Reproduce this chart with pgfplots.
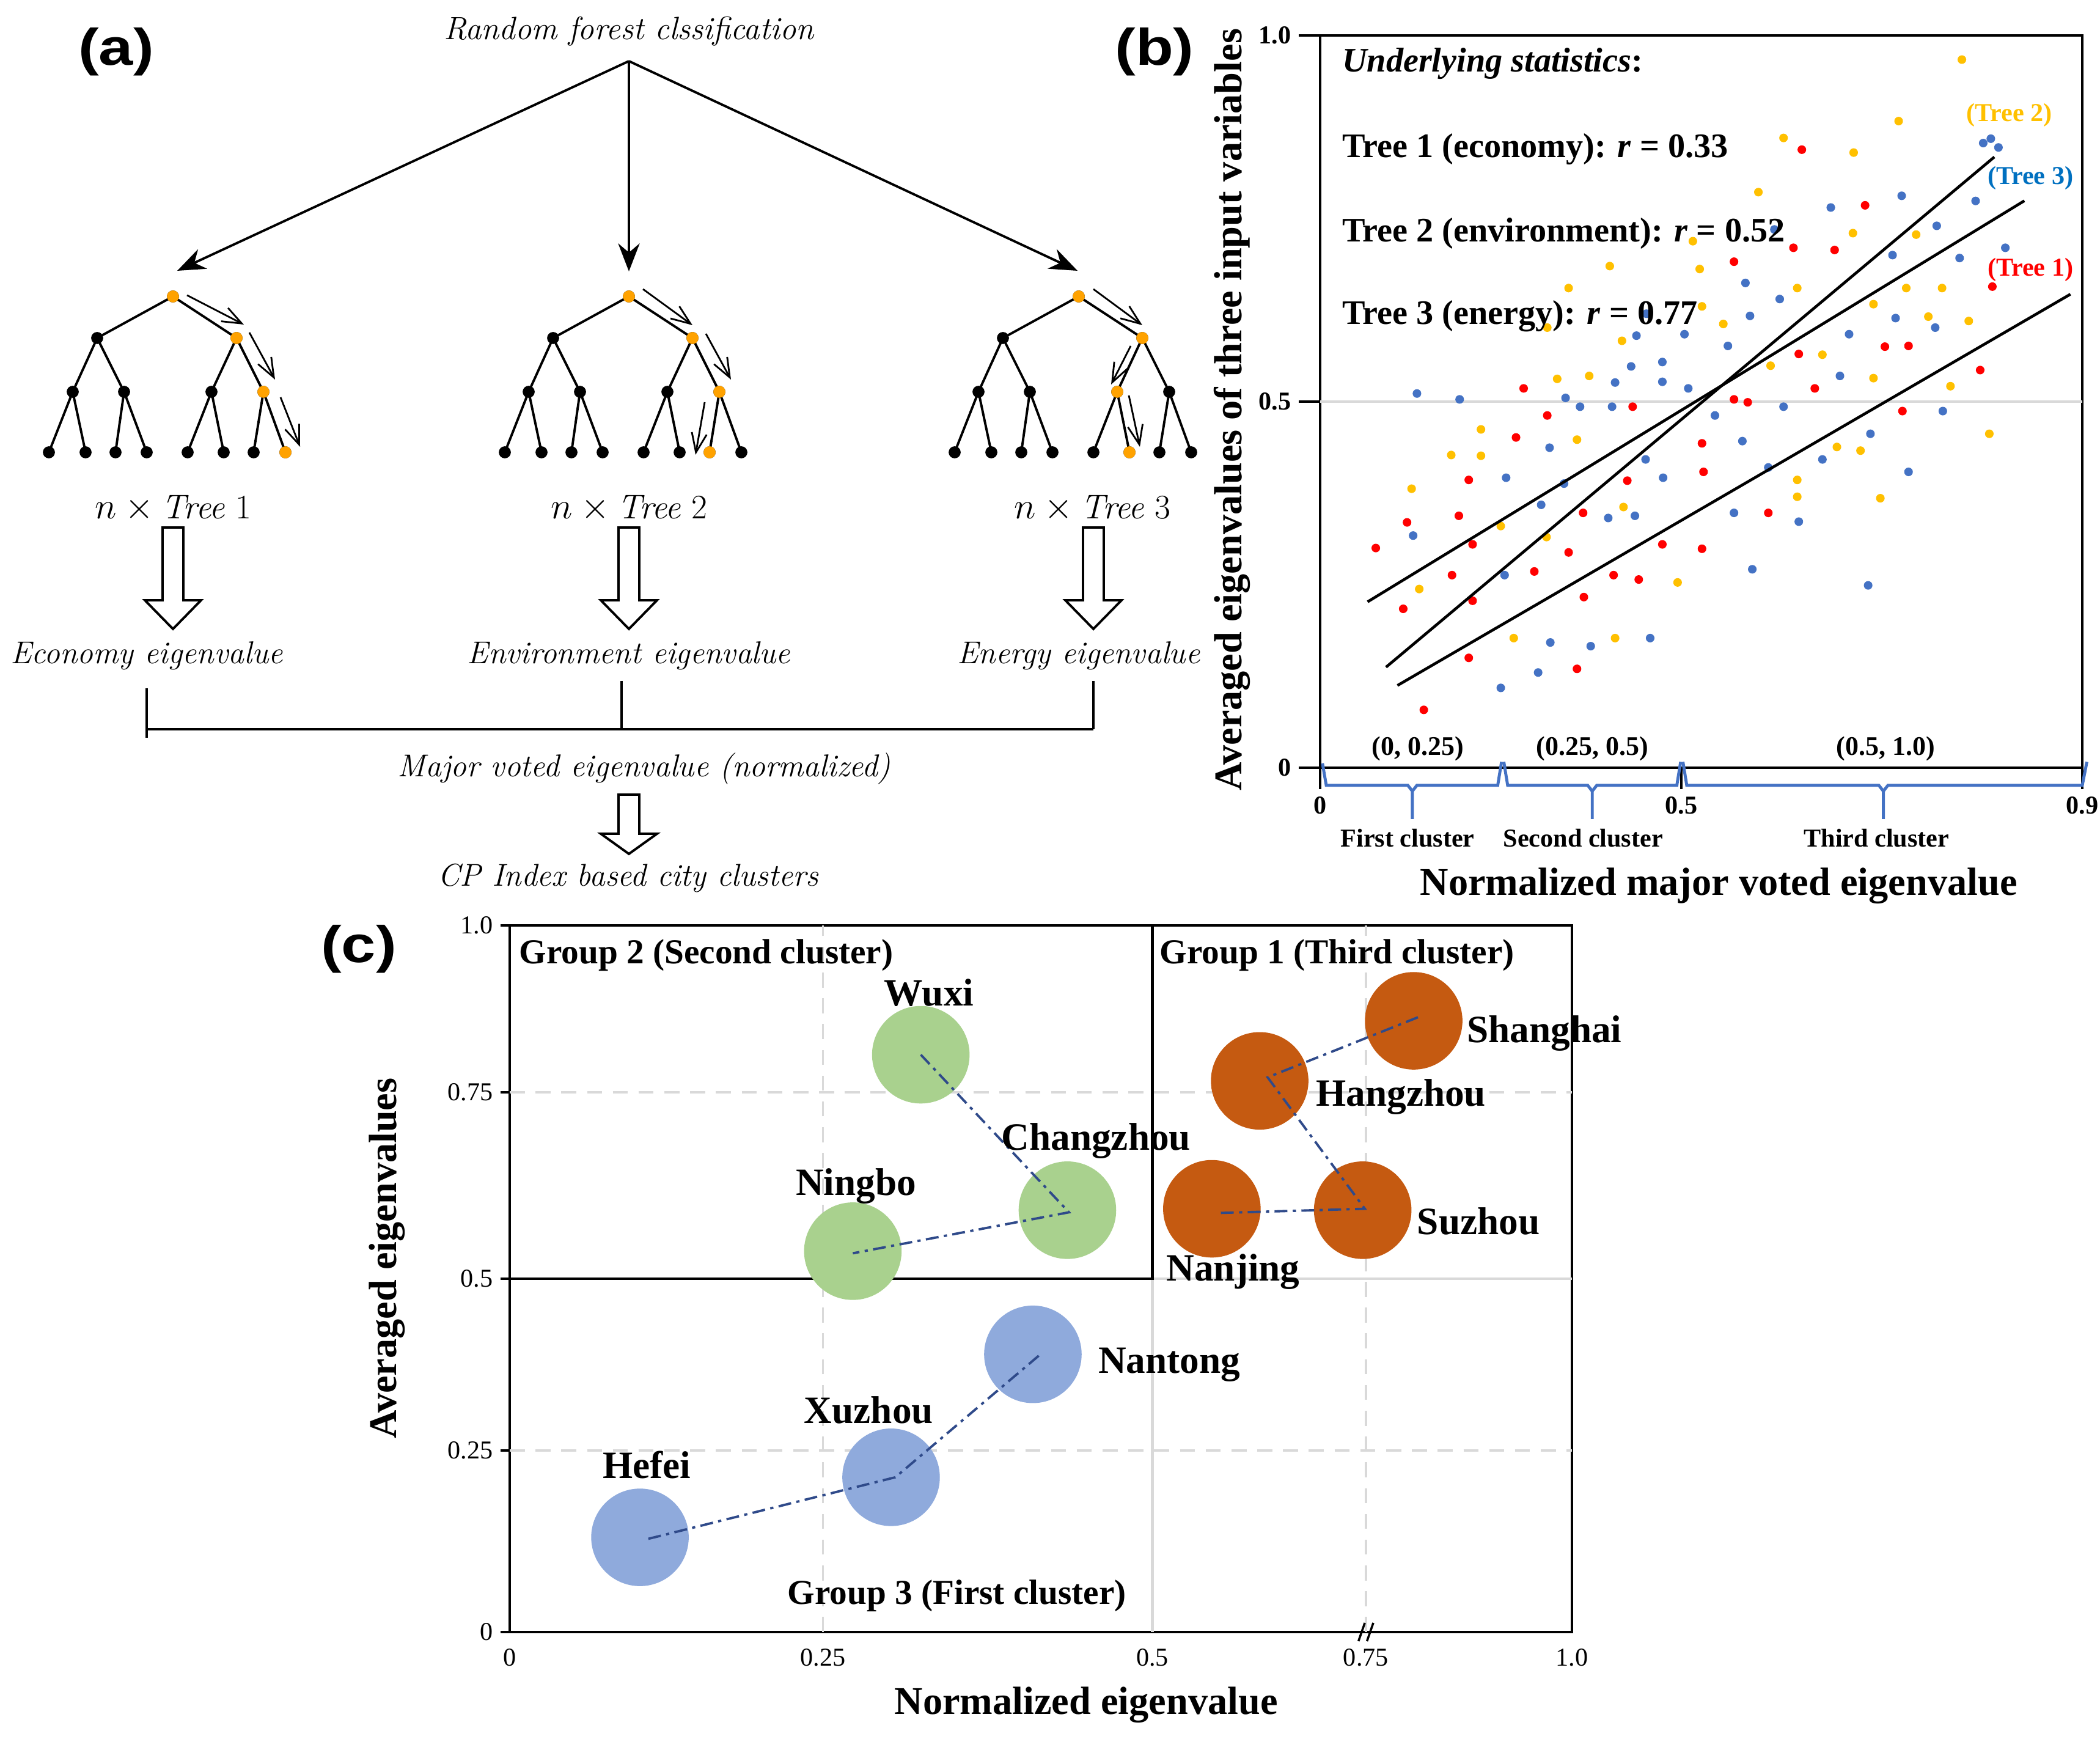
\documentclass[border=0pt]{standalone}
\usepackage{fontspec}
\usepackage{graphicx}
\usepackage{pgfplots}
\pgfplotsset{compat=1.18}
\usepackage{pgfplotstable}
\usetikzlibrary{arrows.meta}
\newfontfamily\tnr{Liberation Serif}
\newfontfamily\sansb{Liberation Sans}

\definecolor{nodeor}{HTML}{FFA200}
\definecolor{dotred}{HTML}{FF0000}
\definecolor{dotyel}{HTML}{FFC000}
\definecolor{dotblu}{HTML}{4472C4}
\definecolor{t3blue}{HTML}{0070C0}
\definecolor{cgreen}{HTML}{A9D18E}
\definecolor{cblue}{HTML}{8FAADC}
\definecolor{corange}{HTML}{C55A11}
\definecolor{navy}{HTML}{2F4A8A}
\definecolor{gridg}{HTML}{D9D9D9}

\tikzset{city/.style={font=\tnr\bfseries\fontsize{18}{21}\selectfont}}
\pgfplotsset{
  pth/.style={black, line width=0.8pt, -{Straight Barb[length=9pt,width=7pt]}},
  dd/.style={navy, line width=1.1pt, dash pattern=on 6pt off 2.5pt on 1.5pt off 2.5pt},
  bubble/.style={only marks, mark=*, mark size=22.5pt, color=#1, mark options={draw=#1, fill=#1}}}

% tree template, x relative to the root, y in picture pixels
\pgfplotstableread{
dx y
-203 740
-164 641
-143 740
0 nan
-94 740
-80 641
-43 740
0 nan
24 740
63 641
83 740
0 nan
132 740
148 641
184 740
0 nan
-164 641
-124 553
-80 641
0 nan
63 641
104 553
148 641
0 nan
-124 553
0 485
104 553
}\treeedges

\pgfplotstableread{
dx y
0 485
-124 553
104 553
-164 641
-80 641
63 641
148 641
-203 740
-143 740
-94 740
-43 740
24 740
83 740
132 740
184 740
}\treenodes

% panel (b): points in axis fractions
\pgfplotstableread{
x y
0.267 0.518
0.632 0.844
0.715 0.768
0.621 0.710
0.675 0.707
0.543 0.691
0.882 0.657
0.741 0.575
0.772 0.576
0.628 0.565
0.866 0.543
0.649 0.518
0.410 0.493
0.298 0.481
0.257 0.451
0.501 0.443
0.503 0.404
0.195 0.393
0.403 0.392
0.345 0.348
0.182 0.344
0.114 0.335
0.073 0.300
0.200 0.305
0.326 0.294
0.449 0.305
0.501 0.299
0.173 0.263
0.281 0.268
0.385 0.263
0.418 0.257
0.200 0.228
0.109 0.217
0.346 0.233
0.195 0.150
0.337 0.135
0.136 0.079
0.543 0.503
0.561 0.499
0.764 0.487
0.588 0.348
}\redpts

\pgfplotstableread{
x y
0.489 0.719
0.380 0.685
0.498 0.681
0.326 0.655
0.501 0.630
0.298 0.601
0.396 0.583
0.311 0.531
0.353 0.535
0.842 0.967
0.759 0.883
0.608 0.860
0.700 0.840
0.575 0.786
0.699 0.730
0.782 0.728
0.626 0.655
0.769 0.655
0.816 0.655
0.726 0.633
0.529 0.606
0.798 0.616
0.851 0.610
0.659 0.564
0.591 0.549
0.726 0.532
0.827 0.521
0.211 0.462
0.337 0.448
0.172 0.427
0.211 0.426
0.120 0.381
0.398 0.356
0.237 0.330
0.297 0.315
0.469 0.253
0.130 0.244
0.254 0.177
0.387 0.177
0.878 0.456
0.678 0.438
0.709 0.433
0.626 0.393
0.626 0.370
0.735 0.368
}\yelpts

\pgfplotstableread{
x y
0.428 0.620
0.415 0.590
0.478 0.592
0.408 0.548
0.449 0.554
0.387 0.526
0.449 0.527
0.483 0.518
0.127 0.511
0.183 0.503
0.322 0.505
0.870 0.853
0.880 0.859
0.890 0.847
0.763 0.781
0.670 0.765
0.860 0.774
0.596 0.735
0.809 0.740
0.751 0.700
0.839 0.696
0.899 0.710
0.558 0.662
0.603 0.640
0.564 0.617
0.755 0.614
0.807 0.601
0.694 0.592
0.535 0.576
0.682 0.535
0.341 0.493
0.383 0.493
0.301 0.437
0.427 0.421
0.244 0.396
0.450 0.396
0.320 0.388
0.290 0.359
0.378 0.341
0.413 0.344
0.122 0.317
0.242 0.263
0.302 0.171
0.355 0.166
0.433 0.177
0.286 0.130
0.237 0.109
0.608 0.493
0.518 0.481
0.817 0.487
0.722 0.456
0.554 0.446
0.659 0.421
0.588 0.410
0.772 0.404
0.543 0.348
0.628 0.336
0.567 0.271
0.719 0.249
}\blupts

\begin{document}
\begin{tikzpicture}
\useasboundingbox (0,0) rectangle (34.36,28.44);

% ---------- panel (a): drawn on a canvas in picture pixels ----------
\begin{axis}[
  at={(0,0)}, anchor=south west, scale only axis,
  width=34.36cm, height=28.44cm,
  xmin=0, xmax=3436, ymin=0, ymax=2844, y dir=reverse,
  hide axis, clip=false]

\addplot[black, line width=1.1pt, -{Stealth[length=13pt,width=10pt]}] coordinates {(1029,100) (290,443)};
\addplot[black, line width=1.1pt, -{Stealth[length=13pt,width=10pt]}] coordinates {(1029,100) (1029,444)};
\addplot[black, line width=1.1pt, -{Stealth[length=13pt,width=10pt]}] coordinates {(1029,100) (1763,443)};

\pgfplotsinvokeforeach{283,1029,1765}{
  \addplot[black, line width=1.1pt, unbounded coords=jump] table[x expr=\thisrow{dx}+#1, y=y] {\treeedges};
  \addplot[only marks, mark=*, mark size=2.6pt, black] table[x expr=\thisrow{dx}+#1, y=y] {\treenodes};
}
\addplot[only marks, mark=*, mark size=2.6pt, color=nodeor, mark options={draw=nodeor, fill=nodeor}] coordinates {
  (283,485) (387,553) (431,641) (467,740)
  (1029,485) (1133,553) (1177,641) (1161,740)
  (1765,485) (1869,553) (1828,641) (1848,740)};

\addplot[pth] coordinates {(306,483) (399,531)};
\addplot[pth] coordinates {(408,544) (450,621)};
\addplot[pth] coordinates {(459,650) (491,731)};
\addplot[pth] coordinates {(1052,473) (1133,532)};
\addplot[pth] coordinates {(1155,546) (1196,621)};
\addplot[pth] coordinates {(1153,658) (1138,744)};
\addplot[pth] coordinates {(1789,473) (1869,532)};
\addplot[pth] coordinates {(1850,566) (1818,629)};
\addplot[pth] coordinates {(1847,647) (1865,731)};

\pgfplotsinvokeforeach{283,1029,1789}{
  \addplot[black, line width=1.1pt, fill=white] coordinates {
    (#1-17,863) (#1+17,863) (#1+17,982) (#1+46,982) (#1,1029) (#1-46,982) (#1-17,982)} --cycle;
}
\addplot[black, line width=1.1pt, fill=white] coordinates {
  (1012,1300) (1046,1300) (1046,1364) (1075,1364) (1029,1397) (983,1364) (1012,1364)} --cycle;

\addplot[black, line width=1.1pt] coordinates {(240,1126) (240,1207)};
\addplot[black, line width=1.1pt] coordinates {(240,1193) (1789,1193)};
\addplot[black, line width=1.1pt] coordinates {(1017,1114) (1017,1193)};
\addplot[black, line width=1.1pt] coordinates {(1789,1114) (1789,1193)};

\node[font=\itshape\fontsize{15}{18}\selectfont] at (axis cs:1029,51) {Random forest clssification};
\node[font=\fontsize{16}{19}\selectfont] at (axis cs:283,832) {$n \times \textit{Tree}$ 1};
\node[font=\fontsize{16}{19}\selectfont] at (axis cs:1029,832) {$n \times \textit{Tree}$ 2};
\node[font=\fontsize{16}{19}\selectfont] at (axis cs:1787,832) {$n \times \textit{Tree}$ 3};
\node[font=\itshape\fontsize{14.7}{17}\selectfont] at (axis cs:240,1073) {Economy eigenvalue};
\node[font=\itshape\fontsize{14.7}{17}\selectfont] at (axis cs:1029,1073) {Environment eigenvalue};
\node[font=\itshape\fontsize{14.7}{17}\selectfont] at (axis cs:1765,1073) {Energy eigenvalue};
\node[font=\itshape\fontsize{14.7}{17}\selectfont] at (axis cs:1054,1258) {Major voted eigenvalue (normalized)};
\node[font=\itshape\fontsize{14.7}{17}\selectfont] at (axis cs:1028,1437) {CP Index based city clusters};

\node[font=\sansb\bfseries\fontsize{24}{28}\selectfont] at (axis cs:190,85) {\scalebox{1.2}[1]{(a)}};
\node[font=\sansb\bfseries\fontsize{24}{28}\selectfont] at (axis cs:1889,85) {\scalebox{1.2}[1]{(b)}};
\node[font=\sansb\bfseries\fontsize{24}{28}\selectfont] at (axis cs:587,1553) {\scalebox{1.2}[1]{(c)}};
\end{axis}

% ---------- panel (b) ----------
\begin{axis}[
  at={(21.60cm,15.88cm)}, anchor=south west, scale only axis,
  width=12.47cm, height=11.98cm,
  xmin=0, xmax=1, ymin=0, ymax=1,
  axis line style={line width=1.3pt},
  xtick={0,0.474,1}, xticklabels={0,0.5,0.9},
  ytick={0,0.5,1}, yticklabels={0,0.5,1.0},
  xtick pos=bottom, ytick pos=left,
  tick align=outside, major tick length=0.35cm,
  tick style={line width=1.3pt, black},
  ticklabel style={font=\tnr\bfseries\fontsize{12}{14}\selectfont},
  xlabel={Normalized major voted eigenvalue},
  ylabel={Averaged eigenvalues of three input variables},
  label style={font=\tnr\bfseries\fontsize{18.3}{21}\selectfont},
  xlabel style={at={(axis description cs:0.523,-0.161)}, anchor=center},
  ylabel style={at={(axis description cs:-0.1155,0.489)}, anchor=center},
  clip=false, clip marker paths=true]

\addplot[gridg, line width=1pt] coordinates {(0,0.5) (1,0.5)};

\addplot[only marks, mark=*, mark size=1.8pt, color=dotred, mark options={draw=dotred, fill=dotred}] table {\redpts};
\addplot[only marks, mark=*, mark size=1.8pt, color=dotyel, mark options={draw=dotyel, fill=dotyel}] table {\yelpts};
\addplot[only marks, mark=*, mark size=1.8pt, color=dotblu, mark options={draw=dotblu, fill=dotblu}] table {\blupts};

\addplot[black, line width=1.3pt] coordinates {(0.0864,0.1373) (0.8846,0.8340)};
\addplot[black, line width=1.3pt] coordinates {(0.0622,0.2265) (0.924,0.7742)};
\addplot[black, line width=1.3pt] coordinates {(0.1014,0.1123) (0.9844,0.6466)};

\addplot[dotblu, line width=1.4pt] coordinates {(0.003,0.006) (0.008,-0.024) (0.115,-0.024) (0.121,-0.032) (0.121,-0.07) (0.121,-0.032) (0.127,-0.024) (0.233,-0.024) (0.238,0.008)};
\addplot[dotblu, line width=1.4pt] coordinates {(0.241,0.008) (0.246,-0.024) (0.351,-0.024) (0.357,-0.032) (0.357,-0.07) (0.357,-0.032) (0.363,-0.024) (0.468,-0.024) (0.473,0.008)};
\addplot[dotblu, line width=1.4pt] coordinates {(0.476,0.008) (0.481,-0.024) (0.733,-0.024) (0.739,-0.032) (0.739,-0.07) (0.739,-0.032) (0.745,-0.024) (1.0,-0.024) (1.006,0.008)};

\node[anchor=west, font=\tnr\bfseries\itshape\fontsize{16}{19}\selectfont] at (axis cs:0.019,0.9616) {Underlying statistics\textup{:}};
\node[anchor=west, font=\tnr\bfseries\fontsize{16}{19}\selectfont] at (axis cs:0.019,0.8447) {Tree 1 (economy): \textit{r} = 0.33};
\node[anchor=west, font=\tnr\bfseries\fontsize{16}{19}\selectfont] at (axis cs:0.019,0.7295) {Tree 2 (environment): \textit{r} = 0.52};
\node[anchor=west, font=\tnr\bfseries\fontsize{16}{19}\selectfont] at (axis cs:0.019,0.6169) {Tree 3 (energy): \textit{r} = 0.77};

\node[text=dotyel, font=\tnr\bfseries\fontsize{12}{14}\selectfont] at (axis cs:0.904,0.891) {(Tree 2)};
\node[text=t3blue, font=\tnr\bfseries\fontsize{12}{14}\selectfont] at (axis cs:0.932,0.805) {(Tree 3)};
\node[text=dotred, font=\tnr\bfseries\fontsize{12}{14}\selectfont] at (axis cs:0.932,0.680) {(Tree 1)};

\node[font=\tnr\bfseries\fontsize{12.5}{14}\selectfont] at (axis cs:0.128,0.026) {(0, 0.25)};
\node[font=\tnr\bfseries\fontsize{12.5}{14}\selectfont] at (axis cs:0.357,0.026) {(0.25, 0.5)};
\node[font=\tnr\bfseries\fontsize{12.5}{14}\selectfont] at (axis cs:0.742,0.026) {(0.5, 1.0)};

\node[font=\tnr\bfseries\fontsize{12}{14}\selectfont] at (axis cs:0.1147,-0.096) {First cluster};
\node[font=\tnr\bfseries\fontsize{12}{14}\selectfont] at (axis cs:0.345,-0.096) {Second cluster};
\node[font=\tnr\bfseries\fontsize{12}{14}\selectfont] at (axis cs:0.730,-0.096) {Third cluster};
\end{axis}

% ---------- panel (c) ----------
\begin{axis}[
  at={(8.34cm,1.74cm)}, anchor=south west, scale only axis,
  width=17.38cm, height=11.56cm,
  xmin=0, xmax=1, ymin=0, ymax=1,
  axis line style={line width=1.3pt},
  xtick={0,0.295,0.605,0.806,1}, xticklabels={0,0.25,0.5,0.75,1.0},
  ytick={0,0.257,0.5,0.764,1}, yticklabels={0,0.25,0.5,0.75,1.0},
  xtick pos=bottom, ytick pos=left,
  tick align=outside, major tick length=0.15cm,
  tick style={line width=1pt, black},
  xtick style={draw=none},
  ticklabel style={font=\tnr\fontsize{12}{14}\selectfont},
  xlabel={Normalized eigenvalue},
  ylabel={Averaged eigenvalues},
  label style={font=\tnr\bfseries\fontsize{18.3}{21}\selectfont},
  xlabel style={at={(axis description cs:0.5426,-0.103)}, anchor=center},
  ylabel style={at={(axis description cs:-0.1157,0.529)}, anchor=center},
  clip=false, clip marker paths=true]

\addplot[gridg, line width=1pt, dash pattern=on 7pt off 5pt] coordinates {(0.295,0) (0.295,1)};
\addplot[gridg, line width=1pt, dash pattern=on 7pt off 5pt] coordinates {(0.806,0) (0.806,1)};
\addplot[gridg, line width=1pt, dash pattern=on 7pt off 5pt] coordinates {(0,0.257) (1,0.257)};
\addplot[gridg, line width=1pt, dash pattern=on 7pt off 5pt] coordinates {(0,0.764) (1,0.764)};
\addplot[gridg, line width=1.2pt] coordinates {(0.605,0) (0.605,0.5) (1,0.5)};
\addplot[black, line width=1.3pt] coordinates {(0,0.5) (0.605,0.5) (0.605,1)};

\addplot[bubble=cgreen] coordinates {(0.387,0.817) (0.525,0.597) (0.323,0.539)};
\addplot[bubble=cblue] coordinates {(0.4925,0.393) (0.359,0.219) (0.1226,0.134)};
\addplot[bubble=corange] coordinates {(0.851,0.865) (0.706,0.780) (0.661,0.599) (0.803,0.597)};

\addplot[dd] coordinates {(0.387,0.817) (0.5265,0.594) (0.323,0.536)};
\addplot[dd] coordinates {(0.498,0.391) (0.363,0.219) (0.128,0.131)};
\addplot[dd] coordinates {(0.855,0.870) (0.7135,0.785) (0.805,0.599) (0.667,0.593)};

\addplot[black, line width=1pt] coordinates {(0.799,-0.013) (0.805,0.013)};
\addplot[black, line width=1pt] coordinates {(0.807,-0.013) (0.813,0.013)};

\node[city] at (axis cs:0.3947,0.905) {Wuxi};
\node[city] at (axis cs:0.552,0.695) {Changzhou};
\node[city] at (axis cs:0.326,0.631) {Ningbo};
\node[city] at (axis cs:0.621,0.378) {Nantong};
\node[city] at (axis cs:0.338,0.314) {Xuzhou};
\node[city] at (axis cs:0.129,0.237) {Hefei};
\node[city] at (axis cs:0.974,0.847) {Shanghai};
\node[city] at (axis cs:0.839,0.757) {Hangzhou};
\node[city] at (axis cs:0.912,0.581) {Suzhou};
\node[city] at (axis cs:0.681,0.510) {Nanjing};

\node[anchor=west, font=\tnr\bfseries\fontsize{16.3}{19}\selectfont] at (axis cs:0.002,0.958) {Group 2 (Second cluster)};
\node[anchor=west, font=\tnr\bfseries\fontsize{16.3}{19}\selectfont] at (axis cs:0.605,0.958) {Group 1 (Third cluster)};
\node[font=\tnr\bfseries\fontsize{16.3}{19}\selectfont] at (axis cs:0.421,0.051) {Group 3 (First cluster)};
\end{axis}
\end{tikzpicture}
\end{document}
